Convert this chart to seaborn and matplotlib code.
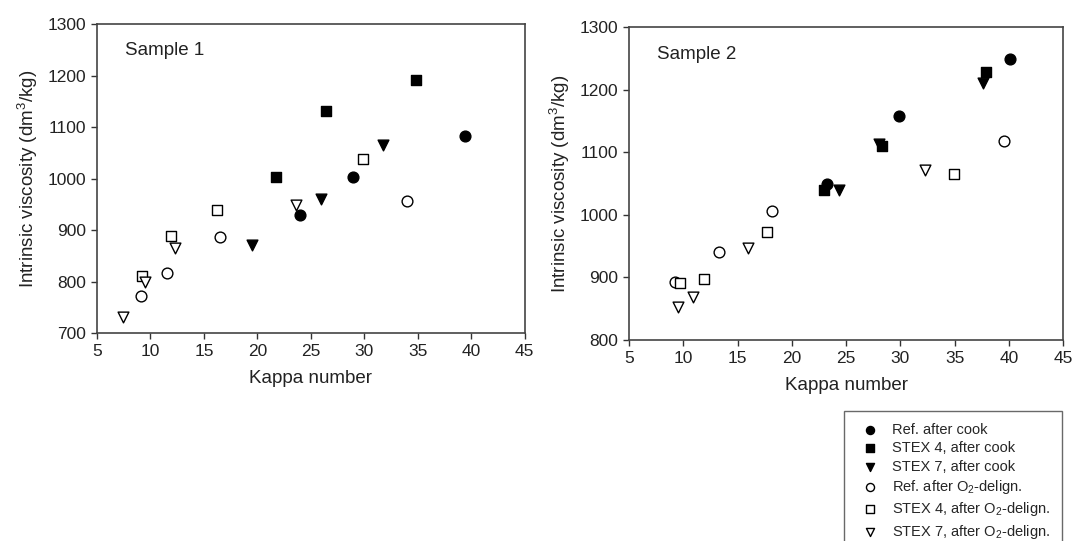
import matplotlib
matplotlib.use('Agg')
import matplotlib.pyplot as plt
import seaborn as sns
import pandas as pd

# Sample 1 (Kappa number, intrinsic viscosity)
s1_ref_cook_x = [24.0, 28.9, 39.4]
s1_ref_cook_y = [929, 1003, 1082]
s1_stex4_cook_x = [21.7, 26.4, 34.8]
s1_stex4_cook_y = [1003, 1131, 1192]
s1_stex7_cook_x = [19.5, 25.9, 31.7]
s1_stex7_cook_y = [871, 961, 1065]
s1_ref_o2_x = [9.1, 11.5, 16.5, 34.0]
s1_ref_o2_y = [772, 816, 886, 957]
s1_stex4_o2_x = [9.2, 11.9, 16.2, 29.9]
s1_stex4_o2_y = [811, 888, 939, 1037]
s1_stex7_o2_x = [7.4, 9.5, 12.3, 23.6]
s1_stex7_o2_y = [732, 800, 866, 948]

# Sample 2
s2_ref_cook_x = [23.2, 29.9, 40.1]
s2_ref_cook_y = [1050, 1159, 1249]
s2_stex4_cook_x = [23.0, 28.3, 37.9]
s2_stex4_cook_y = [1040, 1110, 1229]
s2_stex7_cook_x = [24.3, 28.0, 37.6]
s2_stex7_cook_y = [1040, 1113, 1211]
s2_ref_o2_x = [9.2, 13.3, 18.2, 39.5]
s2_ref_o2_y = [893, 941, 1006, 1119]
s2_stex4_o2_x = [9.7, 11.9, 17.7, 34.9]
s2_stex4_o2_y = [891, 897, 972, 1065]
s2_stex7_o2_x = [9.5, 10.9, 16.0, 32.3]
s2_stex7_o2_y = [852, 868, 947, 1072]

series_names = ['Ref. after cook', 'STEX 4, after cook', 'STEX 7, after cook',
                'Ref. after O$_2$-delign.', 'STEX 4, after O$_2$-delign.',
                'STEX 7, after O$_2$-delign.']
markers = ['o', 's', 'v', 'o', 's', 'v']
filled = [True, True, True, False, False, False]

sample1 = [(s1_ref_cook_x, s1_ref_cook_y), (s1_stex4_cook_x, s1_stex4_cook_y),
           (s1_stex7_cook_x, s1_stex7_cook_y), (s1_ref_o2_x, s1_ref_o2_y),
           (s1_stex4_o2_x, s1_stex4_o2_y), (s1_stex7_o2_x, s1_stex7_o2_y)]
sample2 = [(s2_ref_cook_x, s2_ref_cook_y), (s2_stex4_cook_x, s2_stex4_cook_y),
           (s2_stex7_cook_x, s2_stex7_cook_y), (s2_ref_o2_x, s2_ref_o2_y),
           (s2_stex4_o2_x, s2_stex4_o2_y), (s2_stex7_o2_x, s2_stex7_o2_y)]

sns.set_style('white')
plt.rcParams['font.family'] = ['Liberation Sans', 'DejaVu Sans']
plt.rcParams['mathtext.fontset'] = 'custom'
plt.rcParams['mathtext.rm'] = 'Liberation Sans'
plt.rcParams['mathtext.it'] = 'Liberation Sans'

fig = plt.figure(figsize=(10.72, 5.41), dpi=100)
ax1 = fig.add_axes([0.0905, 0.3845, 0.399, 0.571])
ax2 = fig.add_axes([0.5868, 0.3715, 0.405, 0.578])

text_color = '#222222'

def draw(ax, data, ylim, yticks, title):
    for (xs, ys), name, m, f in zip(data, series_names, markers, filled):
        df = pd.DataFrame({'kappa': xs, 'visc': ys})
        sns.scatterplot(data=df, x='kappa', y='visc', ax=ax, marker=m, s=60,
                        color='black' if f else 'white', edgecolor='black',
                        linewidth=1.0, label=name, legend=False, zorder=3)
    ax.set_xlim(5, 45)
    ax.set_xticks(range(5, 46, 5))
    ax.set_ylim(*ylim)
    ax.set_yticks(yticks)
    ax.set_xlabel('Kappa number', fontsize=13.5, color=text_color, labelpad=8)
    ax.set_ylabel('Intrinsic viscosity (dm$^3$/kg)', fontsize=13.5, color=text_color, labelpad=5)
    ax.tick_params(axis='both', direction='out', length=4, width=1.0, labelsize=12.5,
                   colors='#333333', labelcolor=text_color, bottom=True, left=True, pad=4)
    for sp in ax.spines.values():
        sp.set_color('#444444')
        sp.set_linewidth(1.2)
    ax.text(0.065, 0.9, title, transform=ax.transAxes, fontsize=13.5, color=text_color)

draw(ax1, sample1, (700, 1300), range(700, 1301, 100), 'Sample 1')
draw(ax2, sample2, (800, 1300), range(800, 1301, 100), 'Sample 2')

handles, labels = ax1.get_legend_handles_labels()
leg = fig.legend(handles, labels, loc='upper left', bbox_to_anchor=(0.787, 0.240),
                 fontsize=10.5, frameon=True, fancybox=False, edgecolor='#444444',
                 handletextpad=0.5, labelspacing=0.3, borderpad=0.8, markerscale=0.75,
                 borderaxespad=0)
leg.get_frame().set_linewidth(1.0)

fig.savefig('out.png', dpi=100)
